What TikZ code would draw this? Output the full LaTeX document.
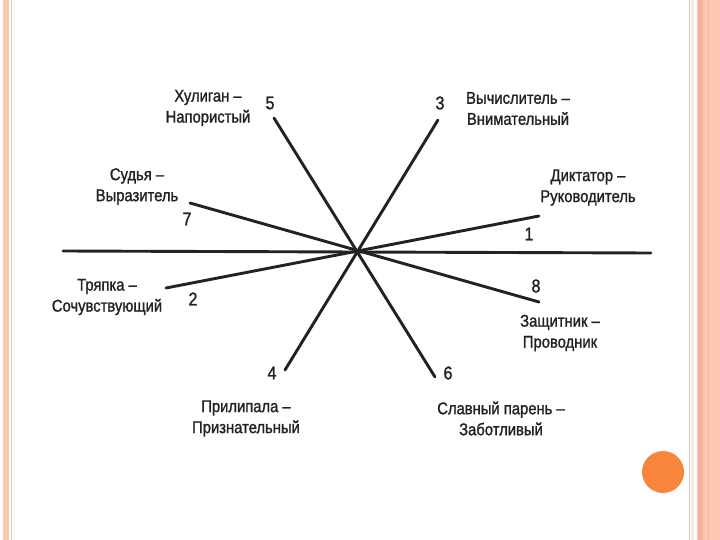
\documentclass[tikz,border=0pt]{standalone}
\usepackage{fontspec}
\setmainfont[FakeStretch=0.87,FakeBold=1.3]{Liberation Sans}
\definecolor{peach}{RGB}{252,200,180}
\definecolor{peachdark}{RGB}{248,178,152}
\definecolor{peachline}{RGB}{232,200,186}
\definecolor{creamline}{RGB}{248,238,215}
\definecolor{palepeach}{RGB}{250,236,226}
\definecolor{ink}{RGB}{34,34,34}
\definecolor{dot}{RGB}{247,134,60}
\tikzset{
  ray/.style={draw=ink, line width=2.9pt, line cap=round},
  lbl/.style={align=center, text=ink, inner sep=0pt, font=\fontsize{17}{21}\selectfont},
  num/.style={text=ink, inner sep=0pt, font=\fontsize{18.5}{18}\selectfont}
}
\begin{document}
\begin{tikzpicture}[x=1pt,y=-1pt]
\useasboundingbox (0,0) rectangle (720,540);
\fill[white] (0,0) rectangle (720,540);
% frame
\fill[peach] (3,0) rectangle (9,540);
\draw[peachline, line width=0.8pt] (11.5,0) -- (11.5,540);
\draw[creamline, line width=0.8pt] (14,0) -- (14,540);
\draw[peachline, line width=1pt] (689.5,0) -- (689.5,540);
\fill[palepeach] (691,0) rectangle (694,540);
\fill[peach] (697,0) rectangle (720,540);
\fill[peachdark] (698,0) rectangle (703,540);
\draw[peachdark, line width=0.8pt] (708,0) -- (708,540);
\fill[dot] (663,472) circle (21);
% rays
\coordinate (c) at (357,251);
\coordinate (hl) at (63,251);
\coordinate (hr) at (651,253);
\coordinate (e5) at (274,118);
\coordinate (e3) at (438,120);
\coordinate (e7) at (190,203);
\coordinate (e1) at (539,216);
\coordinate (e2) at (166,288);
\coordinate (e8) at (539,302);
\coordinate (e4) at (285,370);
\coordinate (e6) at (435,377);
\draw[ray] (hl) -- (hr);
\draw[ray] (e5) -- (e6);
\draw[ray] (e3) -- (e4);
\draw[ray] (e7) -- (e8);
\draw[ray] (e2) -- (e1);
% numbers
\node[num] (n5) at (270,103) {5};
\node[num] (n3) at (440,103) {3};
\node[num] (n7) at (187,219) {7};
\node[num] (n1) at (529,234) {1};
\node[num] (n2) at (193,299) {2};
\node[num] (n8) at (536,286) {8};
\node[num] (n4) at (272,373) {4};
\node[num] (n6) at (448,373) {6};
% labels
\node[lbl] (l5) at (208,108) {Хулиган –\\Напористый};
\node[lbl] (l3) at (518,108.5) {Вычислитель –\\Внимательный};
\node[lbl] (l1) at (588,187.5) {Диктатор –\\Руководитель};
\node[lbl] (l7) at (137,186.5) {Судья –\\Выразитель};
\node[lbl] (l2) at (107,297) {Тряпка –\\Сочувствующий};
\node[lbl] (l8) at (560,333) {Защитник –\\Проводник};
\node[lbl] (l4) at (246,418.5) {Прилипала –\\Признательный};
\node[lbl] (l6) at (501,418.5) {Славный парень –\\Заботливый};
\end{tikzpicture}
\end{document}
